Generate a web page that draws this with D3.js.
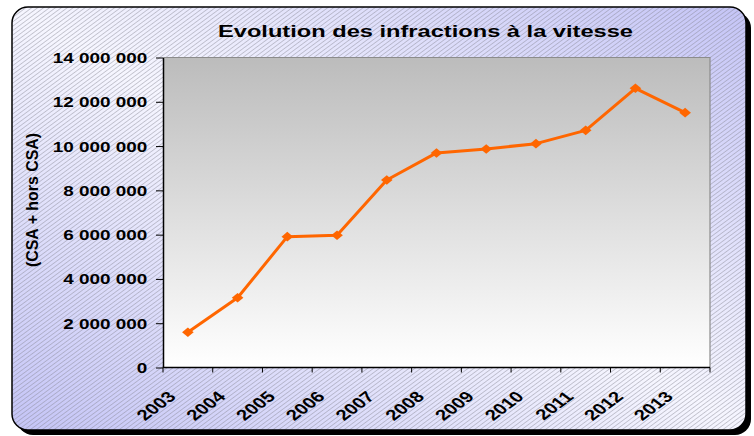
<!DOCTYPE HTML>
<html>
<head>
<meta charset="utf-8">
<title>Evolution des infractions à la vitesse</title>
<style>
  body { margin: 0; background: #fff; }
  svg text { font-family: "Liberation Sans", Arial, sans-serif; font-weight: bold; fill: #000; }
</style>
</head>
<body>
<div id="chart"></div>
<script src="https://cdnjs.cloudflare.com/ajax/libs/d3/7.8.5/d3.min.js"></script>
<script>
// data
var years = ["2003","2004","2005","2006","2007","2008","2009","2010","2011","2012","2013"];
var infractions = [1590000, 3150000, 5910000, 5970000, 8470000, 9690000, 9870000, 10110000, 10710000, 12610000, 11510000];
var yTicks = [0, 2000000, 4000000, 6000000, 8000000, 10000000, 12000000, 14000000];
var title = "Evolution des infractions à la vitesse";
var yTitle = "(CSA + hors CSA)";

var W = 754, H = 436;
var plotL = 163, plotR = 710, plotT = 57.5, plotB = 367.5;
var sx = 1.35; // horizontal stretch of the labels

var svg = d3.select("#chart").append("svg")
	.attr("width", W)
	.attr("height", H);

var defs = svg.append("defs");

// background gradient (blue corners, pale diagonal)
var bg = defs.append("linearGradient").attr("id", "bg")
	.attr("x1", 1).attr("y1", 0).attr("x2", 0).attr("y2", 1);
bg.append("stop").attr("offset", 0).attr("stop-color", "#c4c4f6");
bg.append("stop").attr("offset", 0.5).attr("stop-color", "#f6f6ff");
bg.append("stop").attr("offset", 1).attr("stop-color", "#c4c4f6");

// hatch
var hatch = defs.append("pattern").attr("id", "hatch")
	.attr("patternUnits", "userSpaceOnUse")
	.attr("width", 3.1).attr("height", 3.1)
	.attr("patternTransform", "scale(1.35,1) rotate(45)");
hatch.append("line")
	.attr("x1", 0).attr("y1", 0).attr("x2", 0).attr("y2", 3.1)
	.attr("stroke", "#80808c").attr("stroke-width", 0.75).attr("stroke-opacity", 0.9);

// plot gradient
var pg = defs.append("linearGradient").attr("id", "plotbg")
	.attr("x1", 0).attr("y1", 0).attr("x2", 0).attr("y2", 1);
pg.append("stop").attr("offset", 0).attr("stop-color", "#bcbcbc");
pg.append("stop").attr("offset", 1).attr("stop-color", "#ffffff");

// frame with shadow
svg.append("rect")
	.attr("x", 17).attr("y", 12).attr("width", 734).attr("height", 423)
	.attr("rx", 16).attr("fill", "#000");
svg.append("rect")
	.attr("x", 12).attr("y", 7).attr("width", 734).attr("height", 423)
	.attr("rx", 16).attr("fill", "url(#bg)");
svg.append("rect")
	.attr("x", 12).attr("y", 7).attr("width", 734).attr("height", 423)
	.attr("rx", 16).attr("fill", "url(#hatch)")
	.attr("stroke", "#000").attr("stroke-width", 1.5);

// scales
var x = d3.scaleBand().domain(years).range([plotL, plotR]).padding(0);
var y = d3.scaleLinear().domain([0, 14000000]).range([plotB, plotT]);

// plot area
svg.append("rect")
	.attr("x", plotL).attr("y", plotT)
	.attr("width", plotR - plotL).attr("height", plotB - plotT)
	.attr("fill", "url(#plotbg)");
svg.append("path")
	.attr("d", "M" + plotL + "," + plotT + "H" + plotR + "V" + plotB)
	.attr("fill", "none").attr("stroke", "#8c8c8c").attr("stroke-width", 1.2);

// y axis
var fr = d3.formatLocale({decimal: ",", thousands: " ", grouping: [3], currency: ["", "€"]});
var yAxis = svg.append("g")
	.attr("transform", "translate(" + plotL + ",0)")
	.call(d3.axisLeft(y).tickValues(yTicks).tickSize(7).tickSizeOuter(0).tickFormat(fr.format(",d")));
yAxis.select(".domain").attr("stroke", "#000").attr("stroke-width", 1.5);
yAxis.selectAll(".tick line").attr("stroke", "#000").attr("stroke-width", 1);
yAxis.selectAll(".tick text")
	.attr("x", -11.6)
	.attr("dy", "0.36em")
	.attr("transform", "scale(" + sx + ",1)")
	.style("font-size", "14px");

// x axis: ticks at category boundaries
var bounds = years.map(function(d){ return x(d); }).concat([plotR]);
var xAxis = svg.append("g");
xAxis.append("line")
	.attr("x1", plotL).attr("x2", plotR).attr("y1", plotB).attr("y2", plotB)
	.attr("stroke", "#000").attr("stroke-width", 1.5);
xAxis.selectAll(".xt").data(bounds).enter().append("line")
	.attr("x1", function(d){ return d; }).attr("x2", function(d){ return d; })
	.attr("y1", plotB).attr("y2", plotB + 5)
	.attr("stroke", "#000").attr("stroke-width", 1);
xAxis.selectAll(".xl").data(years).enter().append("text")
	.attr("transform", function(d){
		return "translate(" + (x(d) + x.bandwidth() / 2 - 16) + "," + 394 + ") scale(" + sx + ",1) rotate(-45)";
	})
	.attr("text-anchor", "end")
	.attr("dy", "0.35em")
	.style("font-size", "15px")
	.text(function(d){ return d; });

// line and markers
var pts = years.map(function(d, i){ return [x(d) + x.bandwidth() / 2, y(infractions[i])]; });
svg.append("path")
	.attr("d", d3.line()(pts))
	.attr("fill", "none")
	.attr("stroke", "#ff6600")
	.attr("stroke-width", 3)
	.attr("stroke-linejoin", "round");
svg.selectAll(".mk").data(pts).enter().append("path")
	.attr("d", "M0,-4.8L5.8,0L0,4.8L-5.8,0Z")
	.attr("transform", function(p){ return "translate(" + p[0] + "," + p[1] + ")"; })
	.attr("fill", "#ff6600");

// titles
svg.append("text")
	.attr("x", 425.5).attr("y", 37)
	.attr("text-anchor", "middle")
	.attr("textLength", 415)
	.attr("lengthAdjust", "spacingAndGlyphs")
	.style("font-size", "17px")
	.text(title);

svg.append("text")
	.attr("transform", "translate(32,200) scale(" + sx + ",1) rotate(-90)")
	.attr("text-anchor", "middle")
	.attr("dy", "0.35em")
	.attr("textLength", 134)
	.attr("lengthAdjust", "spacingAndGlyphs")
	.style("font-size", "12.5px")
	.text(yTitle);
</script>
</body>
</html>
